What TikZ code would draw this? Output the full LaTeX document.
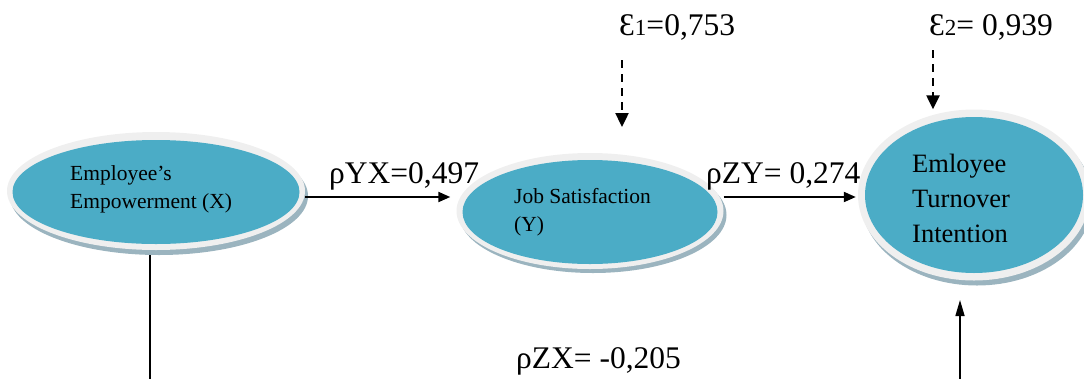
\documentclass[tikz,border=0pt]{standalone}
\usepackage{fontspec}
\setmainfont{Liberation Serif}
\usetikzlibrary{shapes.geometric,arrows.meta}
\definecolor{coreblue}{HTML}{4BACC6}
\definecolor{ringgray}{HTML}{EFEFEF}
\definecolor{shadowblue}{HTML}{9BB4BF}
\tikzset{
  shadowell/.style={ellipse, fill=shadowblue, inner sep=0pt},
  ringell/.style={ellipse, fill=ringgray, inner sep=0pt},
  coreell/.style={ellipse, fill=coreblue, inner sep=0pt},
  smalltxt/.style={inner sep=0pt, anchor=north west, align=left, font=\fontsize{21.5}{28.5}\selectfont},
  bigtxt/.style={inner sep=0pt, anchor=north west, align=left, font=\fontsize{26.5}{35}\selectfont},
  lbl/.style={inner sep=0pt, anchor=base west, font=\fontsize{31.5}{36}\selectfont},
  arr/.style={line width=2pt, -{Triangle[length=12pt,width=10pt]}},
  darr/.style={line width=2.4pt, dash pattern=on 8pt off 6pt, -{Triangle[length=14pt,width=13pt]}},
  thinline/.style={line width=1.4pt},
  uparr/.style={line width=1.6pt, -{Triangle[length=16pt,width=9pt]}}
}
\begin{document}
\begin{tikzpicture}[x=1pt,y=-1pt]
\useasboundingbox (0,0) rectangle (1084,378);
% X ellipse
\node[shadowell, minimum width=298pt, minimum height=118pt] (Xs) at (159,196) {};
\node[ringell, minimum width=298pt, minimum height=118pt] (X) at (156,191) {};
\node[coreell, minimum width=287pt, minimum height=104pt] (Xi) at (156,192) {};
\node[smalltxt] (Xt) at (70,165) {Employee’s\\Empowerment (X)};
% Y ellipse
\node[shadowell, minimum width=267pt, minimum height=116pt] (Ys) at (593,215) {};
\node[ringell, minimum width=267pt, minimum height=116pt] (Y) at (590,211) {};
\node[coreell, minimum width=255pt, minimum height=104pt] (Yi) at (590,212) {};
\node[smalltxt] (Yt) at (514,188) {Job Satisfaction\\(Y)};
% Z ellipse
\node[shadowell, minimum width=232pt, minimum height=171pt] (Zs) at (977,200) {};
\node[ringell, minimum width=232pt, minimum height=171pt] (Z) at (974,195) {};
\node[coreell, minimum width=218pt, minimum height=156pt] (Zi) at (974,195) {};
\node[bigtxt] (Zt) at (912,153.5) {Emloyee\\Turnover\\Intention};
% horizontal arrows
\coordinate (row) at (0,197);
\draw[arr] (X.east |- row) -- ([xshift=-6pt]Y.west |- row);
\draw[arr] (Y.east |- row) -- ([xshift=-2pt]Z.west |- row);
\node[lbl] (pyx) at (329,183) {ρYX=0,497};
\node[lbl] (pzy) at (706,183) {ρZY= 0,274};
% error terms
\node[lbl] (e1) at (619,35) {Ɛ{\fontsize{23}{26}\selectfont 1}=0,753};
\node[lbl] (e2) at (929,35) {Ɛ{\fontsize{23}{26}\selectfont 2}= 0,939};
\coordinate (e1a) at (622,60);
\coordinate (e1b) at (622,127);
\draw[darr] (e1a) -- (e1b);
\coordinate (e2a) at (933,50);
\draw[darr] (e2a) -- (Z.north -| e2a);
% bottom connection
\coordinate (xb) at (150,380);
\coordinate (zb) at (960,380);
\coordinate (zt) at (960,300);
\draw[thinline] (X.south -| xb) ++(0,5) -- (xb);
\draw[uparr] (zb) -- (zt);
\node[lbl] (pzx) at (516,368) {ρZX= -0,205};
\end{tikzpicture}
\end{document}
